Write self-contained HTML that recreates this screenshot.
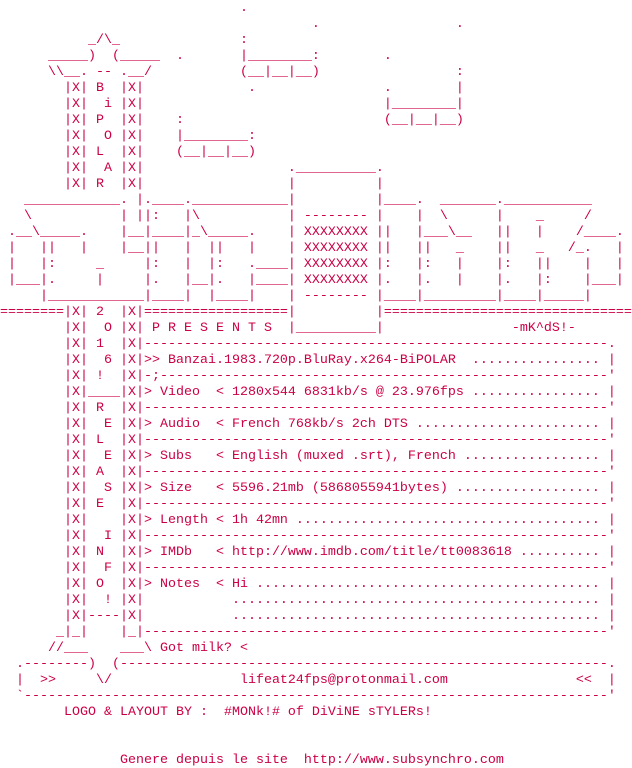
<!DOCTYPE html>
<html><head><meta charset="utf-8"><style>
html,body{margin:0;padding:0;background:#fff;width:632px;height:768px;overflow:hidden}
pre{margin:0;padding:1px 0 0 0;font-family:"Liberation Mono",monospace;font-size:13.33px;line-height:16px;color:#cc0044;white-space:pre}
</style></head><body><pre>                              .
                                       .                 .
           _/\_               :
      _____)  (_____  .       |________:        .
      \\__. -- .__/           (__|__|__)                 :
        |X| B  |X|             .                .        |
        |X|  i |X|                              |________|
        |X| P  |X|    :                         (__|__|__)
        |X|  O |X|    |________:
        |X| L  |X|    (__|__|__)
        |X|  A |X|                  .__________.
        |X| R  |X|                  |          |
   ____________. |.____.____________|          |____.  _______.___________
   \           | ||:   |\           | -------- |    |  \      |    _     /
 .__\_____.    |__|____|_\_____.    | XXXXXXXX ||   |___\__   ||   |    /____.
 |   ||   |    |__||   |  ||   |    | XXXXXXXX ||   ||   _    ||   _   /_.   |
 |   |:     _     |:   |  |:   .____| XXXXXXXX |:   |:   |    |:   ||    |   |
 |___|.     |     |.   |__|.   |____| XXXXXXXX |.   |.   |    |.   |:    |___|
     |____________|____|  |____|    | -------- |____|_________|____|_____|
========|X| 2  |X|==================|          |===============================
        |X|  O |X| P R E S E N T S  |__________|                -mK^dS!-
        |X| 1  |X|----------------------------------------------------------.
        |X|  6 |X|&gt;&gt; Banzai.1983.720p.BluRay.x264-BiPOLAR  ................ |
        |X| !  |X|-;--------------------------------------------------------'
        |X|____|X|&gt; Video  &lt; 1280x544 6831kb/s @ 23.976fps ................ |
        |X| R  |X|----------------------------------------------------------'
        |X|  E |X|&gt; Audio  &lt; French 768kb/s 2ch DTS ....................... |
        |X| L  |X|----------------------------------------------------------'
        |X|  E |X|&gt; Subs   &lt; English (muxed .srt), French ................. |
        |X| A  |X|----------------------------------------------------------'
        |X|  S |X|&gt; Size   &lt; 5596.21mb (5868055941bytes) .................. |
        |X| E  |X|----------------------------------------------------------'
        |X|    |X|&gt; Length &lt; 1h 42mn ...................................... |
        |X|  I |X|----------------------------------------------------------'
        |X| N  |X|&gt; IMDb   &lt; http://www.imdb.com/title/tt0083618 .......... |
        |X|  F |X|----------------------------------------------------------'
        |X| O  |X|&gt; Notes  &lt; Hi ........................................... |
        |X|  ! |X|           .............................................. |
        |X|----|X|           .............................................. |
       _|_|    |_|----------------------------------------------------------'
      //___    ___\ Got milk? &lt;
  .--------)  (-------------------------------------------------------------.
  |  &gt;&gt;     \/                lifeat24fps@protonmail.com                &lt;&lt;  |
  `-------------------------------------------------------------------------'
        LOGO &amp; LAYOUT BY :  #MONk!# of DiViNE sTYLERs!


               Genere depuis le site  http://www.subsynchro.com</pre></body></html>
